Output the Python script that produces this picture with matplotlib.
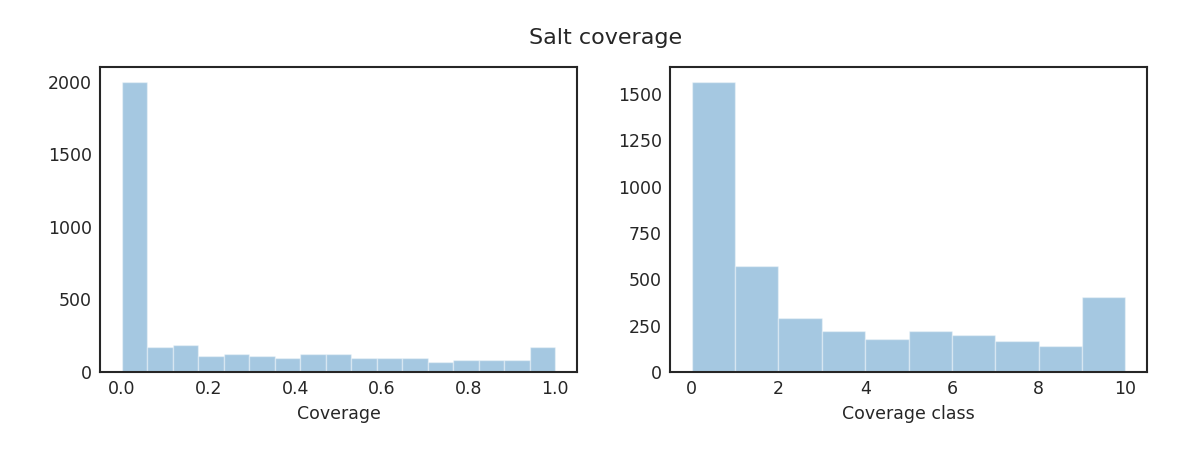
import matplotlib
matplotlib.use("Agg")
import matplotlib.pyplot as plt
import numpy as np

# Data
coverage_edges = np.linspace(0.0, 1.0, 18)
coverage_counts = [2000, 173, 187, 108, 122, 108, 95, 122, 122, 95, 95, 95, 67, 81, 81, 81, 173]

class_edges = np.arange(0, 11)
class_counts = [1567, 573, 292, 220, 180, 220, 200, 169, 139, 404]

left_xticks = [0.0, 0.2, 0.4, 0.6, 0.8, 1.0]
left_yticks = [0, 500, 1000, 1500, 2000]
right_xticks = [0, 2, 4, 6, 8, 10]
right_yticks = [0, 250, 500, 750, 1000, 1250, 1500]

txt = (0.15, 0.15, 0.15)
plt.rcParams['font.family'] = ['DejaVu Sans']

fig = plt.figure(figsize=(11.92, 4.49), dpi=100)
ax1 = fig.add_axes([100/1192, 77/449, 477/1192, 305/449])
ax2 = fig.add_axes([670/1192, 77/449, 477/1192, 305/449])

def draw(ax, edges, counts, xticks, yticks, xlabel):
    edges = np.asarray(edges, dtype=float)
    centers = (edges[:-1] + edges[1:]) / 2
    ax.hist(centers, bins=edges, weights=counts, color='#1f77b4', alpha=0.4,
            edgecolor='white', linewidth=1)
    ax.set_xticks(xticks)
    ax.set_yticks(yticks)
    ax.margins(x=0.05)
    top = max(counts) * 1.05
    ax.set_ylim(0, top)
    ax.tick_params(length=0, labelsize=12.5, colors=txt, pad=6)
    ax.set_xlabel(xlabel, fontsize=12.5, color=txt, labelpad=5)
    for s in ax.spines.values():
        s.set_color(txt)
        s.set_linewidth(1.5)

draw(ax1, coverage_edges, coverage_counts, left_xticks, left_yticks, 'Coverage')
ax1.set_xticklabels([f"{t:.1f}" for t in left_xticks])
draw(ax2, class_edges, class_counts, right_xticks, right_yticks, 'Coverage class')

fig.suptitle('Salt coverage', fontsize=16, color=txt, x=606/1192, y=1 - 38/449, va='center')

fig.savefig('out.png', dpi=100)
